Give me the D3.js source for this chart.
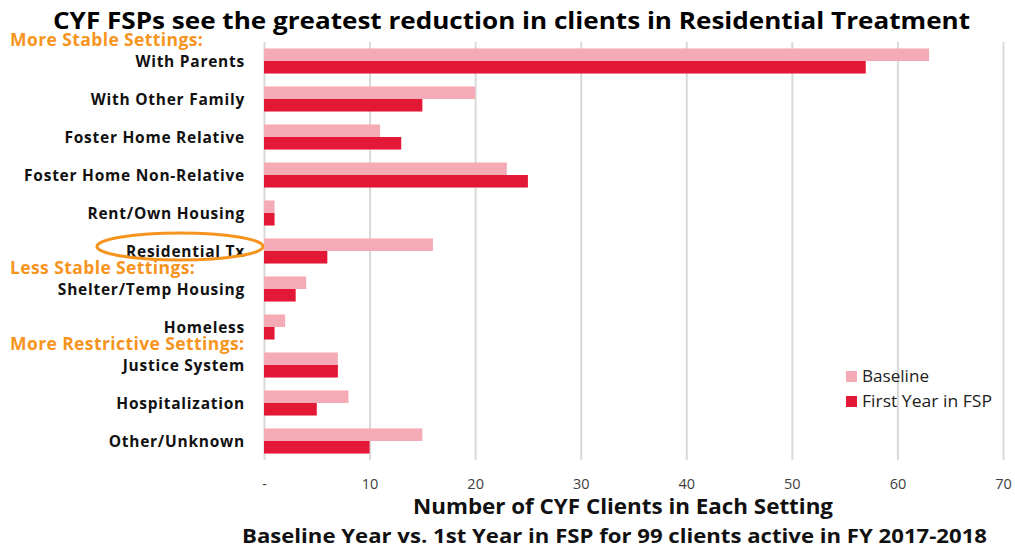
<!DOCTYPE html>
<html>
<head>
<meta charset="utf-8">
<script src="https://cdn.jsdelivr.net/npm/d3@7"></script>
<style>
  html, body { margin: 0; padding: 0; background: #fff; }
  svg { display: block; }
</style>
</head>
<body>
<svg id="chart" width="1015" height="548"></svg>
<script>
// Living settings, top to bottom
const categories = [
  "With Parents", "With Other Family", "Foster Home Relative", "Foster Home Non-Relative",
  "Rent/Own Housing", "Residential Tx", "Shelter/Temp Housing", "Homeless",
  "Justice System", "Hospitalization", "Other/Unknown"
];
const seriesNames = ["Baseline", "First Year in FSP"];
const baseline = [63, 20, 11, 23, 1, 16, 4, 2, 7, 8, 15];
const firstYear = [57, 15, 13, 25, 1, 6, 3, 1, 7, 5, 10];
const xTicks = [0, 10, 20, 30, 40, 50, 60, 70];
const xTickLabels = ["-", "10", "20", "30", "40", "50", "60", "70"];
// Group headings, each placed above the category it introduces
const groupHeadings = [
  { text: "More Stable Settings:", before: "With Parents" },
  { text: "Less Stable Settings:", before: "Shelter/Temp Housing" },
  { text: "More Restrictive Settings:", before: "Justice System" }
];
const highlighted = "Residential Tx";

const colors = ["#f4abb6", "#e31837"];
const orange = "#f7941d";
const FONT = "Open Sans, sans-serif";

const svg = d3.select("#chart");
const margin = { left: 264, right: 12, top: 42, bottom: 88 };
const W = 1015, H = 548;

const x = d3.scaleLinear().domain([0, 70]).range([margin.left, 1003]);
const y = d3.scaleBand().domain(categories).range([margin.top, H - margin.bottom]).paddingInner(0.34).paddingOuter(0.17);
const y1 = d3.scaleBand().domain(seriesNames).range([0, y.bandwidth()]);

// Title
svg.append("text")
  .attr("x", 53).attr("y", 29)
  .attr("font-family", FONT)
  .attr("font-weight", "bold")
  .attr("font-size", 22.5)
  .attr("textLength", 917)
  .attr("lengthAdjust", "spacingAndGlyphs")
  .attr("fill", "#000")
  .text("CYF FSPs see the greatest reduction in clients in Residential Treatment");

// Vertical gridlines and tick labels
const xAxis = d3.axisBottom(x).tickValues(xTicks).tickSize(-(H - margin.bottom - margin.top)).tickFormat((d, i) => xTickLabels[i]);
const gx = svg.append("g").attr("transform", `translate(0,${H - margin.bottom})`).call(xAxis);
gx.select(".domain").remove();
gx.selectAll(".tick line").attr("stroke", "#d9d9d9").attr("stroke-width", 2);
gx.selectAll(".tick text")
  .attr("dy", 0).attr("y", 29)
  .attr("font-family", FONT)
  .attr("font-size", 14.5).attr("fill", "#404040");

// Bars
const rows = svg.append("g").selectAll("g").data(categories).join("g")
  .attr("transform", d => `translate(0,${y(d)})`);
rows.selectAll("rect")
  .data((d, i) => [
    { s: seriesNames[0], v: baseline[i] },
    { s: seriesNames[1], v: firstYear[i] }
  ])
  .join("rect")
  .attr("x", x(0))
  .attr("y", d => y1(d.s))
  .attr("width", d => x(d.v) - x(0))
  .attr("height", y1.bandwidth())
  .attr("fill", (d, i) => colors[i]);

// Category labels
svg.append("g").selectAll("text").data(categories).join("text")
  .attr("x", 245)
  .attr("y", d => y(d) + y.bandwidth() / 2 + 6)
  .attr("text-anchor", "end")
  .attr("font-family", FONT)
  .attr("font-weight", "bold")
  .attr("font-size", 15.5)
  .attr("letter-spacing", 0.75)
  .attr("fill", "#111")
  .text(d => d);

// Group headings
svg.append("g").selectAll("text").data(groupHeadings).join("text")
  .attr("x", 10)
  .attr("y", d => y(d.before) - 2.5)
  .attr("font-family", FONT)
  .attr("font-weight", "bold")
  .attr("font-size", 17.5)
  .attr("letter-spacing", 0.4)
  .attr("fill", orange)
  .text(d => d.text);

// Ring around the highlighted setting
svg.append("ellipse")
  .attr("cx", 180).attr("cy", y(highlighted) + y.bandwidth() / 2 - 4.5)
  .attr("rx", 83).attr("ry", 13.5)
  .attr("fill", "none")
  .attr("stroke", orange)
  .attr("stroke-width", 3);

// Legend
const legend = svg.append("g").selectAll("g").data(seriesNames).join("g")
  .attr("transform", (d, i) => `translate(846,${371 + i * 25})`);
legend.append("rect").attr("width", 11).attr("height", 11).attr("fill", (d, i) => colors[i]);
legend.append("text")
  .attr("x", 16).attr("y", 11)
  .attr("font-family", FONT)
  .attr("font-size", 15.5).attr("fill", "#222")
  .attr("textLength", (d, i) => [67, 130][i])
  .attr("lengthAdjust", "spacingAndGlyphs")
  .text(d => d);

// Axis title and subtitle
svg.append("text")
  .attr("x", 413).attr("y", 514)
  .attr("font-family", FONT)
  .attr("font-weight", "bold")
  .attr("font-size", 20.5)
  .attr("textLength", 420)
  .attr("lengthAdjust", "spacingAndGlyphs")
  .attr("fill", "#111")
  .text("Number of CYF Clients in Each Setting");
svg.append("text")
  .attr("x", 242).attr("y", 543)
  .attr("font-family", FONT)
  .attr("font-weight", "bold")
  .attr("font-size", 20)
  .attr("textLength", 745)
  .attr("lengthAdjust", "spacingAndGlyphs")
  .attr("fill", "#111")
  .text("Baseline Year vs. 1st Year in FSP for 99 clients active in FY 2017-2018");
</script>
</body>
</html>
